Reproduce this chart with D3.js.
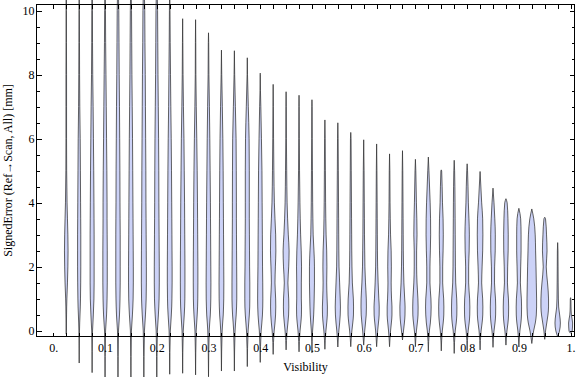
<!DOCTYPE html>
<html><head><meta charset="utf-8">
<script src="https://cdn.jsdelivr.net/npm/d3@7"></script>
<style>
body{margin:0;background:#fff}
svg{display:block}
text{font-family:"Liberation Serif","Times New Roman",serif;fill:#000}
</style>
</head><body>
<svg id="chart" width="576" height="377"></svg>
<script>
// Violin centres (Visibility)
const positions = [0.025,0.05,0.075,0.1,0.125,0.15,0.175,0.2,0.225,0.25,0.275,0.3,0.325,0.35,0.375,0.4,0.425,0.45,0.475,0.5,0.525,0.55,0.575,0.6,0.625,0.65,0.675,0.7,0.725,0.75,0.775,0.8,0.825,0.85,0.875,0.9,0.925,0.95,0.975,1.0];
// Range of each distribution (mm)
const mins = [-0.1,-1.0,-1.3,-1.6,-1.6,-1.6,-1.6,-1.6,-1.35,-1.32,-1.37,-1.43,-1.25,-1.25,-1.11,-0.98,-0.73,-0.59,-0.65,-0.68,-0.57,-0.5,-0.49,-0.44,-0.49,-0.49,-0.28,-0.49,-0.65,-0.62,-0.7,-0.6,-0.59,-0.51,-0.44,-0.5,-0.39,-0.26,-0.18,-0.07];
const maxs = [11,11,11,11,11,11,11,11,11,9.75,9.72,9.31,8.77,8.75,8.53,8.05,7.70,7.47,7.36,7.22,6.59,6.5,6.2,5.97,5.84,5.53,5.63,5.36,5.43,5.03,5.33,5.22,4.98,4.46,4.13,3.83,3.81,3.55,2.76,1.04];
// Levels at which the smoothed density was read
const levels = [0,0.25,0.5,0.75,1,1.5,2,2.5,3,3.5,4,5,6,7,8,9,10];
// Relative density of each violin at those levels
const densities = [
 [0.2,0.2,0.3,0.4,0.6,1.2,1.6,1.8,1.6,1.2,0.8,0.4,0.3,0.3,0.3,0.2,0.2],
 [0.3,0.5,0.8,1.1,1.3,1.5,1.6,1.6,1.6,1.5,1.4,1.2,1.0,0.6,0.4,0.3,0.2],
 [0.4,0.8,1.2,1.5,1.8,2.0,2.0,2.0,2.0,1.9,1.8,1.6,1.3,1.0,0.6,0.4,0.3],
 [0.5,1.0,1.5,1.8,2.0,2.2,2.2,2.2,2.1,2.0,2.0,1.8,1.5,1.2,0.9,0.6,0.4],
 [0.5,1.0,1.5,1.8,2.0,2.2,2.2,2.2,2.2,2.1,2.0,1.9,1.7,1.5,1.2,1.0,0.8],
 [0.5,1.0,1.5,1.9,2.2,2.4,2.4,2.3,2.2,2.1,2.0,1.8,1.6,1.3,1.0,0.8,0.6],
 [0.6,1.1,1.6,2.0,2.3,2.5,2.5,2.4,2.3,2.2,2.1,2.0,1.8,1.6,1.4,1.1,0.9],
 [0.6,1.1,1.6,2.0,2.3,2.5,2.5,2.4,2.3,2.2,2.1,2.0,1.8,1.5,1.2,1.0,0.8],
 [0.6,1.1,1.6,2.0,2.2,2.4,2.4,2.3,2.2,2.1,2.0,1.8,1.5,1.1,0.8,0.5,0.3],
 [0.6,1.1,1.6,2.0,2.2,2.3,2.3,2.2,2.1,2.0,1.9,1.6,1.3,0.8,0.4,0.2,0],
 [0.6,1.1,1.6,2.0,2.2,2.3,2.3,2.2,2.1,2.0,1.9,1.6,1.2,0.7,0.3,0.2,0],
 [0.7,1.2,1.8,2.1,2.3,2.4,2.3,2.2,2.1,2.0,1.9,1.6,1.3,0.9,0.4,0.2,0],
 [0.7,1.2,1.8,2.1,2.3,2.4,2.3,2.2,2.1,2.0,1.9,1.7,1.4,0.9,0.3,0,0],
 [0.7,1.2,1.8,2.2,2.4,2.4,2.3,2.2,2.1,2.0,2.0,1.9,1.7,1.0,0.3,0,0],
 [0.8,1.4,2.0,2.4,2.5,2.5,2.3,2.2,2.1,2.0,2.0,2.0,1.8,1.0,0.2,0,0],
 [0.9,1.6,2.2,2.5,2.6,2.5,2.3,2.2,2.1,2.0,1.9,1.7,1.2,0.6,0,0,0],
 [1.0,1.8,2.4,2.6,2.5,1.8,2.2,2.7,2.5,1.8,1.2,0.7,0.4,0.2,0,0,0],
 [1.0,1.8,2.5,2.7,2.6,1.8,2.6,3.0,2.2,1.5,1.0,0.6,0.3,0.2,0,0,0],
 [1.0,1.8,2.4,2.5,2.3,2.3,2.5,2.2,1.6,1.2,0.9,0.5,0.3,0.2,0,0,0],
 [0.6,1.2,1.7,2.0,2.2,2.5,2.5,2.0,1.2,0.9,0.7,0.5,0.3,0.2,0,0,0],
 [1.0,1.8,2.4,2.5,2.2,1.8,2.0,1.8,1.2,0.9,0.7,0.5,0.3,0,0,0,0],
 [1.0,1.8,2.4,2.6,2.4,1.8,1.2,1.0,0.9,0.8,0.7,0.5,0.3,0,0,0,0],
 [1.1,2.0,2.7,2.8,2.6,1.6,1.2,1.0,0.9,0.8,0.7,0.5,0.3,0,0,0,0],
 [1.0,1.8,2.5,2.7,2.6,1.8,1.2,1.0,0.8,0.7,0.6,0.4,0,0,0,0,0],
 [1.0,1.8,2.5,2.6,2.2,1.5,1.0,0.8,0.7,0.6,0.5,0.3,0,0,0,0,0],
 [1.0,1.8,2.4,2.4,2.0,1.6,1.8,1.6,1.0,0.7,0.5,0.3,0,0,0,0,0],
 [1.0,1.9,2.5,2.6,2.2,1.4,1.0,0.8,0.7,0.6,0.5,0.3,0,0,0,0,0],
 [1.0,1.9,2.6,2.7,2.5,1.6,1.2,1.2,1.6,1.4,1.0,0.4,0,0,0,0,0],
 [1.0,2.0,2.6,2.8,2.6,1.6,1.6,2.0,2.3,2.2,1.8,0.6,0,0,0,0,0],
 [1.0,1.9,2.5,2.6,2.4,1.4,1.4,1.8,2.0,1.8,1.2,0.4,0,0,0,0,0],
 [1.0,2.0,2.6,2.7,2.5,1.5,1.2,1.1,1.0,0.9,0.8,0.4,0,0,0,0,0],
 [1.0,2.0,2.6,2.7,2.5,1.5,1.5,2.0,2.2,1.8,1.2,0.4,0,0,0,0,0],
 [1.0,2.0,2.7,2.8,2.6,1.6,2.0,2.6,2.8,2.6,1.6,0,0,0,0,0,0],
 [1.0,2.0,2.6,2.7,2.5,1.5,1.6,2.2,2.3,1.8,1.0,0,0,0,0,0,0],
 [1.0,2.0,2.6,2.7,2.5,1.5,1.7,2.2,2.3,2.0,1.2,0,0,0,0,0,0],
 [1.0,2.0,2.6,2.7,2.5,1.5,1.8,2.2,2.2,1.8,0,0,0,0,0,0,0],
 [1.8,3.5,4.5,4.8,4.8,4.5,4.2,3.8,3.4,2.0,0,0,0,0,0,0,0],
 [0.8,2.0,3.2,3.8,3.8,2.8,1.5,2.3,1.8,0.8,0,0,0,0,0,0,0],
 [1.8,2.7,2.0,1.0,0.7,0.5,0.4,0.3,0,0,0,0,0,0,0,0,0],
 [1.6,2.0,0.8,0.4,0.3,0,0,0,0,0,0,0,0,0,0,0,0]
];
// Axis ticks and labels
const xMinorTicks = [0,0.025,0.05,0.075,0.1,0.125,0.15,0.175,0.2,0.225,0.25,0.275,0.3,0.325,0.35,0.375,0.4,0.425,0.45,0.475,0.5,0.525,0.55,0.575,0.6,0.625,0.65,0.675,0.7,0.725,0.75,0.775,0.8,0.825,0.85,0.875,0.9,0.925,0.95,0.975,1.0];
const xLabelTicks = [0,0.1,0.2,0.3,0.4,0.5,0.6,0.7,0.8,0.9,1.0];
const xLabels = ["0.","0.1","0.2","0.3","0.4","0.5","0.6","0.7","0.8","0.9","1."];
const yMajorTicks = [0,2,4,6,8,10];
const yLabels = ["0","2","4","6","8","10"];
const yMinorTicks = [0.5,1,1.5,2.5,3,3.5,4.5,5,5.5,6.5,7,7.5,8.5,9,9.5];

const svg = d3.select("#chart");
const L = 36, R = 575, T = 4, B = 337;
const x = d3.scaleLinear().domain([-0.0335, 1.0085]).range([L, R]);
const y = d3.scaleLinear().domain([-0.1875, 10.2094]).range([B, T]);
const w = d3.scaleLinear().domain([0, 5]).range([0, 5]);

// Violins
const area = d3.area().curve(d3.curveMonotoneY);
const gV = svg.append("g");
positions.forEach((p, i) => {
  const pts = [{v: maxs[i], d: 0}];
  for (let j = levels.length - 1; j >= 0; j--) {
    if (levels[j] < maxs[i] && levels[j] > mins[i]) pts.push({v: levels[j], d: densities[i][j]});
  }
  pts.push({v: mins[i], d: 0});
  const cx = x(p);
  area.y(d => y(d.v)).x0(d => cx - w(d.d)).x1(d => cx + w(d.d));
  gV.append("path").attr("d", area(pts))
    .attr("fill", "rgb(204,210,247)")
    .attr("stroke", "#333").attr("stroke-opacity", 0.85)
    .attr("stroke-width", 0.9).attr("stroke-linejoin", "round");
});

// Frame
svg.append("rect").attr("x", L + 0.5).attr("y", T + 0.5).attr("width", R - L - 1).attr("height", B - T - 1)
  .attr("fill", "none").attr("stroke", "#000").attr("stroke-width", 1);

function styleAxis(g) {
  g.select(".domain").remove();
  g.selectAll("line").attr("stroke", "#000").attr("shape-rendering", "crispEdges");
  g.selectAll("text").attr("font-family", "'Liberation Serif','Times New Roman',serif").attr("font-size", 12).attr("fill", "#000");
}
// Bottom
svg.append("g").attr("transform", `translate(0,${B - 0.5})`)
  .call(d3.axisBottom(x).tickValues(xMinorTicks).tickSize(-4).tickFormat(""))
  .call(styleAxis);
svg.append("g").attr("transform", `translate(0,${B - 0.5})`)
  .call(d3.axisBottom(x).tickValues(xLabelTicks).tickSize(-4).tickPadding(6.5)
    .tickFormat((d, i) => xLabels[i]))
  .call(styleAxis);
// Top
svg.append("g").attr("transform", `translate(0,${T + 0.5})`)
  .call(d3.axisTop(x).tickValues(xMinorTicks).tickSize(-4).tickFormat(""))
  .call(styleAxis);
// Left
svg.append("g").attr("transform", `translate(${L + 0.5},0)`)
  .call(d3.axisLeft(y).tickValues(yMajorTicks).tickSize(-5).tickPadding(2).tickFormat((d, i) => yLabels[i]))
  .call(styleAxis);
svg.append("g").attr("transform", `translate(${L + 0.5},0)`)
  .call(d3.axisLeft(y).tickValues(yMinorTicks).tickSize(-3).tickFormat(""))
  .call(styleAxis);
// Right
svg.append("g").attr("transform", `translate(${R - 0.5},0)`)
  .call(d3.axisRight(y).tickValues(yMajorTicks).tickSize(-5).tickFormat(""))
  .call(styleAxis);
svg.append("g").attr("transform", `translate(${R - 0.5},0)`)
  .call(d3.axisRight(y).tickValues(yMinorTicks).tickSize(-3).tickFormat(""))
  .call(styleAxis);

// Axis titles
svg.append("text").attr("x", (L + R) / 2).attr("y", 371).attr("text-anchor", "middle")
  .attr("font-size", 12).text("Visibility");
svg.append("text").attr("transform", `translate(11.5,${(T + B) / 2}) rotate(-90)`)
  .attr("text-anchor", "middle").attr("font-size", 12)
  .text("SignedError (Ref\u2192Scan, All) [mm]");
</script>
</body></html>
